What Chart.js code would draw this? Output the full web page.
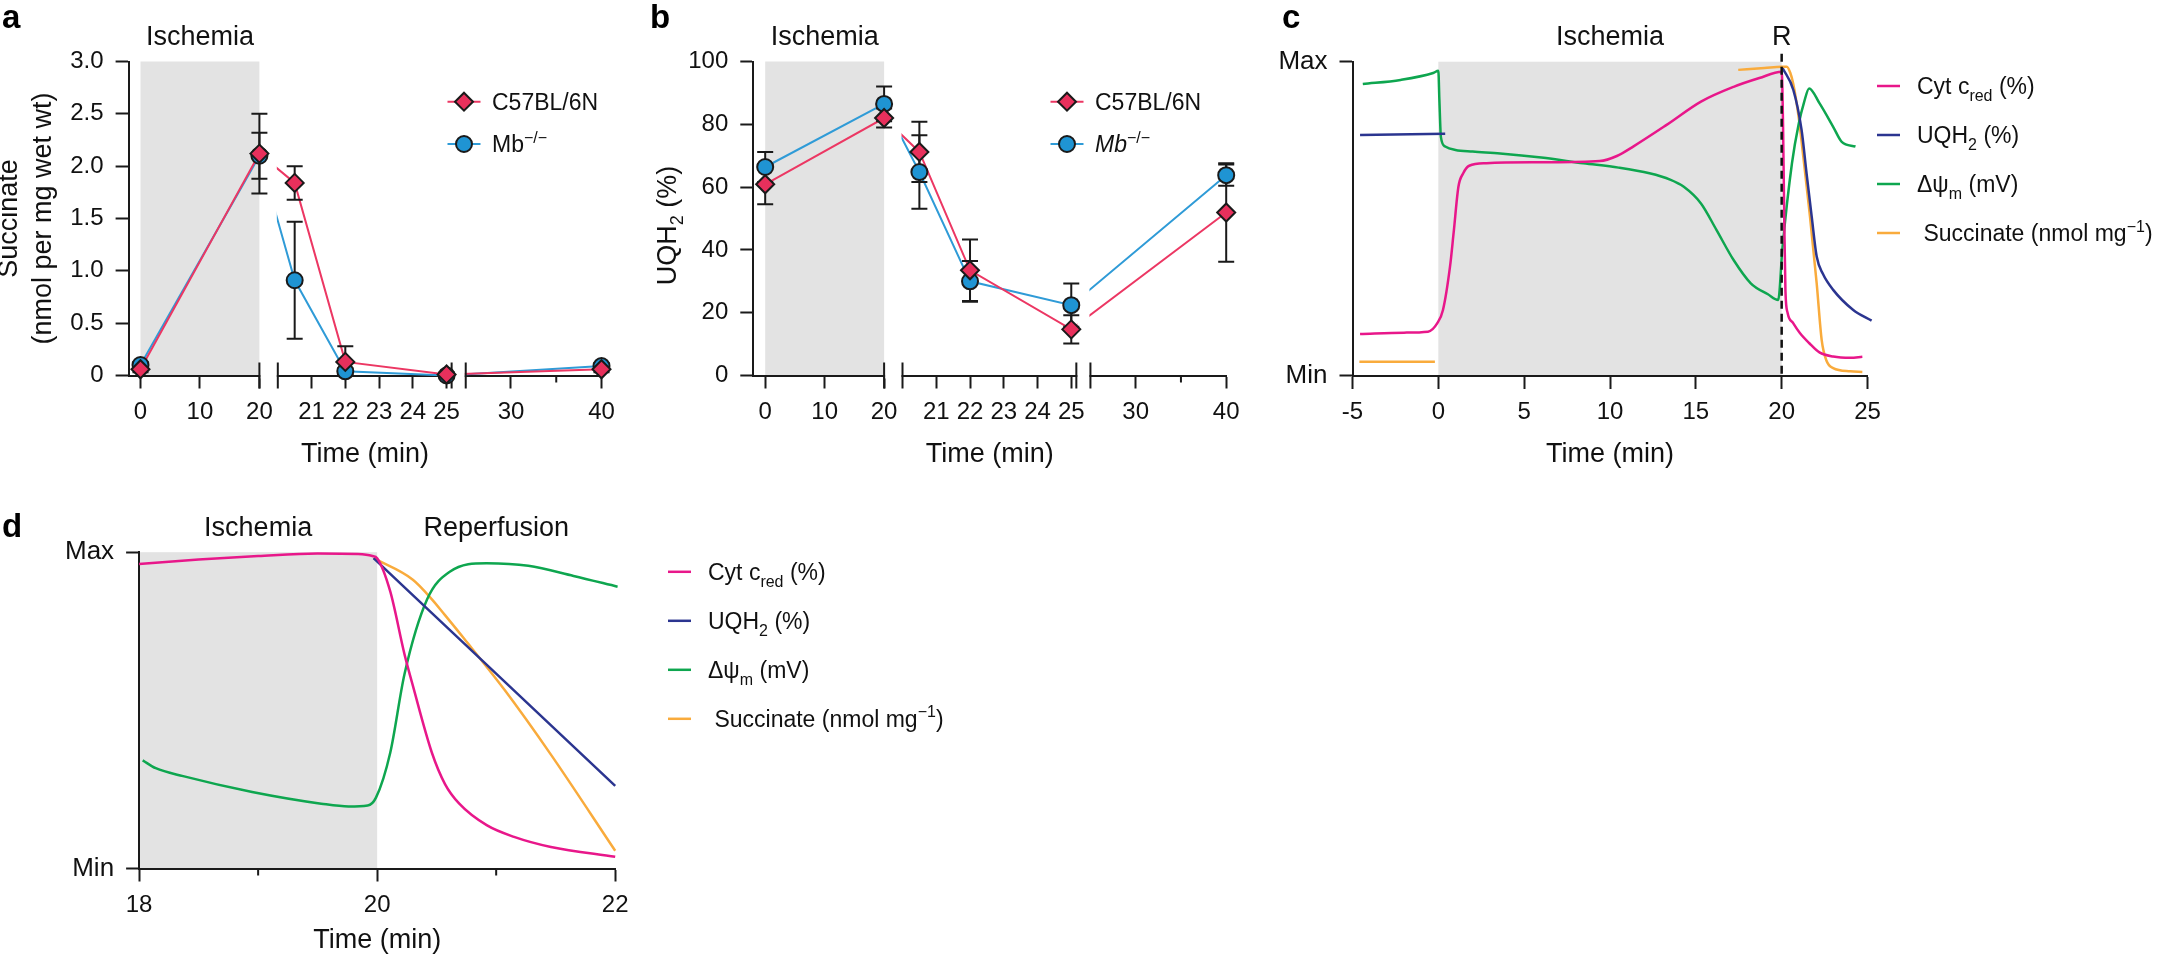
<!DOCTYPE html>
<html>
<head>
<meta charset="utf-8">
<title>Ischemia / reperfusion panels</title>
<script src="https://cdn.jsdelivr.net/npm/chart.js@4.4.1/dist/chart.umd.min.js"></script>
<style>
  html, body { margin: 0; padding: 0; background: #fff; overflow: hidden; }
  #page { position: relative; width: 2158px; height: 956px; }
  #page canvas { position: absolute; left: 0; top: 0; }
</style>
</head>
<body>
<div id="page">
  <canvas id="chartA" width="2158" height="956"></canvas>
  <canvas id="chartB" width="2158" height="956"></canvas>
  <canvas id="chartC" width="2158" height="956"></canvas>
  <canvas id="chartD" width="2158" height="956"></canvas>
</div>
<script>
// ---- panels a, b: measured samples (min) ----
const sampleTimes = [0, 20, 20.5, 22, 25, 40];
const succWT = [0.06, 2.12, 1.84, 0.13, 0.01, 0.06];
const succWTErr = [0.03, 0.38, 0.16, 0.15, 0.02, 0.03];
const succMb = [0.10, 2.10, 0.91, 0.04, 0.00, 0.09];
const succMbErr = [0.03, 0.22, 0.56, 0.03, 0.01, 0.03];
const uqWT = [60.9, 82.0, 71.2, 33.5, 14.7, 51.9];
const uqWTErr = [6.4, 3.0, 9.6, 9.8, 4.5, 15.7];
const uqMb = [66.4, 86.5, 64.8, 30.0, 22.4, 63.8];
const uqMbErr = [4.8, 5.5, 11.7, 6.5, 6.9, 3.4];
const brokenTicks = [0, 10, 20, 21, 22, 23, 24, 25, 30, 40];
const brokenMinorTicks = [35];
const succTicks = [0, 0.5, 1, 1.5, 2, 2.5, 3];
const uqTicks = [0, 20, 40, 60, 80, 100];

// ---- panel c: model traces, time (min) / relative level ----
const cCytT = [-4.56, -2, -0.6, -0.05, 0.27, 0.68, 0.89, 1.17, 1.45, 1.8, 2.8, 6, 9.4, 10.4, 11.35, 13.3, 15.3, 17.2, 18.7, 20, 20.08, 20.15, 20.22, 20.35, 20.67, 21.06, 21.6, 22.2, 23, 24, 24.7];
const cCytV = [13.4, 13.8, 14.1, 16.9, 21, 34.8, 45.5, 60.2, 64.5, 66.9, 67.7, 68, 68.4, 70, 73, 79.9, 87.3, 92, 94.8, 96.8, 80, 50, 27, 20, 16.8, 13.7, 10.5, 7.5, 6.2, 5.8, 6.1];
const cUqT = [-4.56, 0.4, 10, 20.06, 20.68, 21.16, 21.45, 21.75, 22.04, 22.4, 23.0, 24.17, 25.24];
const cUqV = [76.7, 77.1, null, 97.9, 91, 78.3, 64.5, 50.7, 38, 32.5, 27.4, 21, 17.6];
const cPsiT = [-4.4, -2.2, -0.3, 0, 0.06, 0.15, 0.4, 1, 2, 3.6, 6, 8.45, 10.5, 12.3, 13.5, 14.3, 15.3, 16.2, 17.2, 18.2, 19.2, 19.8, 20.05, 20.6, 21, 21.3, 21.6, 22.2, 23, 23.5, 24.3];
const cPsiV = [92.9, 94.2, 96.4, 97.1, 88, 76, 73, 71.9, 71.4, 70.8, 69.5, 67.7, 66.3, 64.5, 62.5, 60.2, 54.9, 46.5, 36.9, 29.5, 26, 24.2, 41, 67.7, 80.4, 87, 91.5, 86.8, 79.3, 74.5, 73];
const cSuccT = [-4.6, -0.2, 8, 17.47, 19, 20, 20.3, 20.5, 20.67, 21, 21.26, 21.65, 22.04, 22.33, 22.6, 23, 24, 24.7];
const cSuccV = [4.5, 4.5, null, 97.4, 98, 98.4, 98.4, 96.5, 93.1, 82, 69.8, 50.7, 29.5, 11.5, 5, 2.5, 1.5, 1.3];

// ---- panel d: zoom on 18-22 min ----
const dCytT = [18, 18.5, 19, 19.5, 19.84, 19.96, 20, 20.11, 20.23, 20.3, 20.46, 20.57, 20.69, 20.92, 21.15, 21.46, 22];
const dCytV = [96.3, 97.7, 98.8, 99.6, 99.4, 98.8, 98.1, 87.6, 67.7, 57.8, 36.6, 26.7, 20.5, 13.7, 10, 6.8, 3.7];
const dUqT = [19.97, 20.73, 22];
const dUqV = [98.1, 71.2, 26.1];
const dPsiT = [18.03, 18.14, 18.37, 18.95, 19.53, 19.76, 19.92, 19.99, 20.11, 20.23, 20.42, 20.61, 20.92, 21.27, 21.65, 22.02];
const dPsiV = [34.2, 31.7, 29.2, 24.2, 20.5, 19.6, 19.9, 22.4, 36.6, 61.5, 85.1, 93.8, 96.5, 95.7, 92.5, 89.1];
const dSuccT = [19.97, 20.3, 20.46, 20.57, 20.73, 21.07, 21.46, 22];
const dSuccV = [98.1, 91.3, 85.1, 80.1, 72.7, 56.5, 36, 5.6];
const levelTicks = [0, 100];
const levelLabels = ['Min', 'Max'];
const dMinorTicks = [19, 21];

// legend texts
const strainLabels = [[{ text: 'C57BL/6N' }], [{ text: 'Mb' }, { text: '−/−', sup: true }]];
const traceLabels = [
  [{ text: 'Cyt c' }, { text: 'red', sub: true }, { text: ' (%)' }],
  [{ text: 'UQH' }, { text: '2', sub: true }, { text: ' (%)' }],
  [{ text: 'Δψ' }, { text: 'm', sub: true }, { text: ' (mV)' }],
  [{ text: ' Succinate (nmol mg' }, { text: '−1', sup: true }, { text: ')' }]
];

const FONT = "'Liberation Sans', Arial, sans-serif";
const INK = '#1a1a1a';
const SHADE = '#e3e3e3';
const RED = '#ec3763', RED_FILL = '#e8305c';
const BLUE = '#2f9bd7', BLUE_FILL = '#1f94d3';
const PINK = '#e8178a', NAVY = '#2b3590', GREEN = '#0ea64f', ORANGE = '#f9ab3c';
const traceColors = [PINK, NAVY, GREEN, ORANGE];

Chart.defaults.font.family = FONT;
Chart.defaults.font.size = 24;
Chart.defaults.color = '#111';
Chart.defaults.animation = false;

// broken time axis of a and b (pixels per minute, gap before the segment)
const brokenLayout = [
  { from: -2, to: 20, scale: 5.945, gap: 0 },
  { from: 20, to: 25.15, scale: 33.75, gap: 18.4 },
  { from: 25, to: 40, scale: 9.05, gap: 14.1 }
];
let acc = 0;
brokenLayout.forEach(seg => {
  acc += seg.gap;
  seg.start = acc;
  acc += (seg.to - seg.from) * seg.scale;
  seg.end = acc;
});
const brokenSpan = acc;

function toBroken(t) {
  const seg = brokenLayout.find(s => t >= s.from && t <= s.to);
  return seg.start + (t - seg.from) * seg.scale;
}

function richFont(p, size) {
  const s = (p.sub || p.sup) ? Math.round(size * 0.68) : size;
  return (p.italic ? 'italic ' : '') + (p.bold ? 'bold ' : '') + s + 'px ' + FONT;
}

// y = vertical centre of the capitals
function drawRich(ctx, parts, x, y, size, align) {
  const base = y + size * 0.36;
  const widths = parts.map(p => { ctx.font = richFont(p, size); return ctx.measureText(p.text).width; });
  const total = widths.reduce((a, b) => a + b, 0);
  let cx = align === 'center' ? x - total / 2 : x;
  ctx.textAlign = 'left';
  ctx.textBaseline = 'alphabetic';
  parts.forEach((p, i) => {
    ctx.font = richFont(p, size);
    const dy = p.sub ? size * 0.28 : p.sup ? -size * 0.42 : 0;
    ctx.fillText(p.text, cx, base + dy);
    cx += widths[i];
  });
}

function drawLetter(ctx, letter, x, baseline) {
  ctx.font = 'bold 33px ' + FONT;
  ctx.textAlign = 'left';
  ctx.textBaseline = 'alphabetic';
  ctx.fillStyle = '#000';
  ctx.fillText(letter, x, baseline);
}

function drawMarker(ctx, shape, x, y, r, fill) {
  ctx.beginPath();
  if (shape === 'diamond') {
    ctx.moveTo(x, y - r); ctx.lineTo(x + r, y); ctx.lineTo(x, y + r); ctx.lineTo(x - r, y); ctx.closePath();
  } else {
    ctx.arc(x, y, r, 0, Math.PI * 2);
  }
  ctx.fillStyle = fill; ctx.fill();
  ctx.lineWidth = 2; ctx.strokeStyle = INK; ctx.stroke();
}

function drawMinorTicks(chart, values, len) {
  const { ctx, chartArea: ca, scales: { x } } = chart;
  ctx.save();
  ctx.strokeStyle = INK; ctx.lineWidth = 2;
  ctx.beginPath();
  values.forEach(v => {
    const px = x.getPixelForValue(v);
    ctx.moveTo(px, ca.bottom); ctx.lineTo(px, ca.bottom + len);
  });
  ctx.stroke();
  ctx.restore();
}

function drawBreaks(chart) {
  const { ctx, chartArea: ca, scales: { x } } = chart;
  ctx.save();
  for (let i = 1; i < brokenLayout.length; i++) {
    const a = x.getPixelForValue(brokenLayout[i - 1].end);
    const b = x.getPixelForValue(brokenLayout[i].start);
    ctx.fillStyle = '#fff';
    ctx.fillRect(a + 1, ca.top - 6, b - a - 2, ca.bottom - ca.top + 9);
    ctx.strokeStyle = INK; ctx.lineWidth = 2;
    ctx.beginPath();
    [a, b].forEach(px => { ctx.moveTo(px, ca.bottom - 13); ctx.lineTo(px, ca.bottom + 13); });
    ctx.stroke();
  }
  ctx.restore();
}

function drawErrorBars(chart, values, errs) {
  const { ctx, scales: { x, y } } = chart;
  ctx.save();
  ctx.strokeStyle = INK; ctx.lineWidth = 2;
  sampleTimes.forEach((t, i) => {
    if (!errs[i]) return;
    const px = x.getPixelForValue(toBroken(t));
    const hi = values[i] + errs[i], lo = values[i] - errs[i];
    const top = y.getPixelForValue(hi);
    const bot = y.getPixelForValue(Math.max(lo, 0));
    ctx.beginPath();
    ctx.moveTo(px, top); ctx.lineTo(px, bot);
    ctx.moveTo(px - 8, top); ctx.lineTo(px + 8, top);
    if (lo > 0) { ctx.moveTo(px - 8, bot); ctx.lineTo(px + 8, bot); }
    ctx.stroke();
  });
  ctx.restore();
}

function makeBroken(ts, vs) { return ts.map((t, i) => ({ x: toBroken(t), y: vs[i] })); }
function makeXY(ts, vs) { return ts.map((t, i) => ({ x: t, y: vs[i] })); }

function axisStyle(tickLen) {
  return {
    grid: { drawOnChartArea: false, drawTicks: true, tickLength: tickLen, tickWidth: 2, tickColor: INK },
    border: { display: true, color: INK, width: 2 }
  };
}

// panels a and b
function brokenPanel(canvasId, o) {
  let prepared = false;
  const plugin = {
    id: 'broken' + o.letter,
    beforeDraw(chart) {
      const { ctx, chartArea: ca, scales: { x } } = chart;
      const x0 = x.getPixelForValue(toBroken(0)), x1 = x.getPixelForValue(toBroken(20));
      ctx.save();
      ctx.fillStyle = SHADE;
      ctx.fillRect(x0, ca.top, x1 - x0, ca.bottom - ca.top);
      ctx.restore();
      prepared = false;
    },
    beforeDatasetDraw(chart, args) {
      if (prepared || chart.data.datasets[args.index].role !== 'markers') return;
      prepared = true;
      drawBreaks(chart);
      drawMinorTicks(chart, brokenMinorTicks.map(toBroken), 7);
      drawErrorBars(chart, o.mb, o.mbErr);
      drawErrorBars(chart, o.wt, o.wtErr);
    },
    afterDraw(chart) {
      const { ctx, chartArea: ca, scales: { x } } = chart;
      ctx.save();
      ctx.fillStyle = '#111';
      const xm = (x.getPixelForValue(toBroken(0)) + x.getPixelForValue(toBroken(20))) / 2;
      drawRich(ctx, [{ text: 'Ischemia' }], xm, ca.top - 26, 27, 'center');
      drawLetter(ctx, o.letter, o.letterX, 28);
      const entries = [
        { color: RED, fill: RED_FILL, shape: 'diamond', r: 9, parts: strainLabels[0] },
        { color: BLUE, fill: BLUE_FILL, shape: 'circle', r: 8, parts: strainLabels[1].map(p => p.sup ? p : Object.assign({}, p, { italic: o.italicMb })) }
      ];
      entries.forEach((e, i) => {
        const ly = o.legendY[i];
        ctx.strokeStyle = e.color; ctx.lineWidth = 2;
        ctx.beginPath(); ctx.moveTo(o.legendX - 16.5, ly); ctx.lineTo(o.legendX + 16.5, ly); ctx.stroke();
        drawMarker(ctx, e.shape, o.legendX, ly, e.r, e.fill);
        ctx.fillStyle = '#111';
        drawRich(ctx, e.parts, o.legendX + 28, ly, 23);
      });
      if (o.richTitle) {
        ctx.translate(o.richTitle.x, (ca.top + ca.bottom) / 2 + 7);
        ctx.rotate(-Math.PI / 2);
        drawRich(ctx, o.richTitle.parts, 0, 0, 27, 'center');
      }
      ctx.restore();
    }
  };

  const yTitle = o.yTitle
    ? { display: true, text: o.yTitle, font: { size: 27, lineHeight: 1.25 }, padding: { top: -7, bottom: 0 } }
    : { display: false };

  return new Chart(document.getElementById(canvasId), {
    type: 'line',
    data: {
      datasets: [
        { role: 'line', label: 'C57BL/6N', data: makeBroken(sampleTimes, o.wt), borderColor: RED, borderWidth: 2, pointRadius: 0, tension: 0, order: 3, clip: false },
        { role: 'line', label: 'Mb-/-', data: makeBroken(sampleTimes, o.mb), borderColor: BLUE, borderWidth: 2, pointRadius: 0, tension: 0, order: 3, clip: false },
        { role: 'markers', label: 'Mb-/-', data: makeBroken(sampleTimes, o.mb), showLine: false, pointStyle: 'circle', pointRadius: 8, pointBackgroundColor: BLUE_FILL, pointBorderColor: INK, pointBorderWidth: 2, order: 2, clip: false },
        { role: 'markers', label: 'C57BL/6N', data: makeBroken(sampleTimes, o.wt), showLine: false, pointStyle: 'rectRot', pointRadius: 9, pointBackgroundColor: RED_FILL, pointBorderColor: INK, pointBorderWidth: 2, order: 1, clip: false }
      ]
    },
    options: {
      responsive: false,
      animation: false,
      events: [],
      layout: { padding: { left: o.left - o.yWidth, right: 2158 - o.right, top: o.top, bottom: 956 - o.bottom - 100 } },
      plugins: { legend: { display: false }, tooltip: { enabled: false } },
      scales: {
        x: Object.assign({
          type: 'linear', min: 0, max: brokenSpan,
          afterBuildTicks: s => { s.ticks = brokenTicks.map(t => ({ value: toBroken(t) })); },
          afterFit: s => { s.height = 100; },
          ticks: { autoSkip: false, maxRotation: 0, minRotation: 0, padding: 9, font: { size: 24 }, callback: (v, i) => String(brokenTicks[i]) },
          title: { display: true, text: 'Time (min)', font: { size: 27 }, padding: { top: 0, bottom: 5 } }
        }, axisStyle(13)),
        y: Object.assign({
          type: 'linear', min: o.yMin, max: o.yMax,
          afterBuildTicks: s => { s.ticks = o.yTicks.map(v => ({ value: v })); },
          afterFit: s => { s.width = o.yWidth; },
          ticks: { padding: 12, font: { size: 24 }, callback: o.yFormat },
          title: yTitle
        }, axisStyle(13))
      }
    },
    plugins: [plugin]
  });
}

brokenPanel('chartA', {
  letter: 'a', letterX: 2,
  wt: succWT, wtErr: succWTErr, mb: succMb, mbErr: succMbErr,
  left: 128.6, right: 601.5, top: 61.5, bottom: 375.5, yWidth: 128.6,
  yMin: 0, yMax: 3, yTicks: succTicks,
  yFormat: v => (v === 0 ? '0' : v.toFixed(1)),
  yTitle: ['Succinate', '(nmol per mg wet wt)'],
  legendX: 464, legendY: [101.7, 144], italicMb: false
});

brokenPanel('chartB', {
  letter: 'b', letterX: 650,
  wt: uqWT, wtErr: uqWTErr, mb: uqMb, mbErr: uqMbErr,
  left: 753.3, right: 1226.2, top: 61.5, bottom: 375.5, yWidth: 110,
  yMin: 0, yMax: 100, yTicks: uqTicks,
  yFormat: v => String(v),
  richTitle: { x: 666, parts: [{ text: 'UQH' }, { text: '2', sub: true }, { text: ' (%)' }] },
  legendX: 1067, legendY: [101.7, 144], italicMb: true
});

// panels c and d
function tracePanel(canvasId, o) {
  const plugin = {
    id: 'trace' + o.letter,
    beforeDraw(chart) {
      const { ctx, chartArea: ca, scales: { x } } = chart;
      const x0 = x.getPixelForValue(o.shade[0]), x1 = x.getPixelForValue(o.shade[1]);
      ctx.save();
      ctx.fillStyle = SHADE;
      ctx.fillRect(x0, ca.top, x1 - x0, ca.bottom - ca.top);
      ctx.restore();
    },
    afterDatasetsDraw(chart) {
      const { ctx, chartArea: ca, scales: { x } } = chart;
      if (o.minor) drawMinorTicks(chart, o.minor, 7);
      if (o.reperfusionMark !== undefined) {
        const px = x.getPixelForValue(o.reperfusionMark);
        ctx.save();
        ctx.strokeStyle = '#111'; ctx.lineWidth = 2.5; ctx.setLineDash([8, 5]);
        ctx.beginPath(); ctx.moveTo(px, ca.top - 8); ctx.lineTo(px, ca.bottom); ctx.stroke();
        ctx.restore();
      }
    },
    afterDraw(chart) {
      const { ctx, chartArea: ca, scales: { x } } = chart;
      ctx.save();
      ctx.fillStyle = '#111';
      o.labels.forEach(l => drawRich(ctx, [{ text: l.text }], x.getPixelForValue(l.at), ca.top - 26, 27, 'center'));
      drawLetter(ctx, o.letter, o.letterX, o.letterY);
      traceLabels.forEach((parts, i) => {
        const ly = o.legendY + i * 49;
        ctx.strokeStyle = traceColors[i]; ctx.lineWidth = 2.5;
        ctx.beginPath(); ctx.moveTo(o.legendX, ly); ctx.lineTo(o.legendX + 23, ly); ctx.stroke();
        ctx.fillStyle = '#111';
        drawRich(ctx, parts, o.legendX + 40, ly, 23);
      });
      ctx.restore();
    }
  };

  const traces = o.series.map((s, i) => ({
    label: traceLabels[i].map(p => p.text).join(''),
    data: makeXY(s[0], s[1]),
    borderColor: traceColors[i], borderWidth: 2.5,
    pointRadius: 0, cubicInterpolationMode: 'monotone', spanGaps: false, clip: false
  }));

  return new Chart(document.getElementById(canvasId), {
    type: 'line',
    data: { datasets: traces },
    options: {
      responsive: false,
      animation: false,
      events: [],
      layout: { padding: { left: o.left - o.yWidth, right: 2158 - o.right, top: o.top, bottom: 956 - o.bottom - o.xHeight } },
      plugins: { legend: { display: false }, tooltip: { enabled: false } },
      scales: {
        x: Object.assign({
          type: 'linear', min: o.xMin, max: o.xMax,
          afterFit: s => { s.height = o.xHeight; },
          ticks: { stepSize: o.xStep, autoSkip: false, maxRotation: 0, padding: 9, font: { size: 24 } },
          title: { display: true, text: 'Time (min)', font: { size: 27 }, padding: { top: 0, bottom: o.titlePad } }
        }, axisStyle(13)),
        y: Object.assign({
          type: 'linear', min: 0, max: 100,
          afterBuildTicks: s => { s.ticks = levelTicks.map(v => ({ value: v })); },
          afterFit: s => { s.width = o.yWidth; },
          ticks: { padding: 12, font: { size: 26 }, callback: (v, i) => levelLabels[i] }
        }, axisStyle(13))
      }
    },
    plugins: [plugin]
  });
}

tracePanel('chartC', {
  letter: 'c', letterX: 1282, letterY: 28,
  series: [[cCytT, cCytV], [cUqT, cUqV], [cPsiT, cPsiV], [cSuccT, cSuccV]],
  left: 1352.5, right: 1867.5, top: 61.7, bottom: 376, yWidth: 90, xHeight: 100, titlePad: 5,
  xMin: -5, xMax: 25, xStep: 5, shade: [0, 20], reperfusionMark: 20,
  labels: [{ text: 'Ischemia', at: 10 }, { text: 'R', at: 20 }],
  legendX: 1877, legendY: 86
});

tracePanel('chartD', {
  letter: 'd', letterX: 2, letterY: 536.5,
  series: [[dCytT, dCytV], [dUqT, dUqV], [dPsiT, dPsiV], [dSuccT, dSuccV]],
  left: 139.1, right: 615.2, top: 552.2, bottom: 868.5, yWidth: 100, xHeight: 87, titlePad: -1.5,
  xMin: 18, xMax: 22, xStep: 2, shade: [18, 20], minor: dMinorTicks,
  labels: [{ text: 'Ischemia', at: 19 }, { text: 'Reperfusion', at: 21 }],
  legendX: 668, legendY: 571.8
});
</script>
</body>
</html>
